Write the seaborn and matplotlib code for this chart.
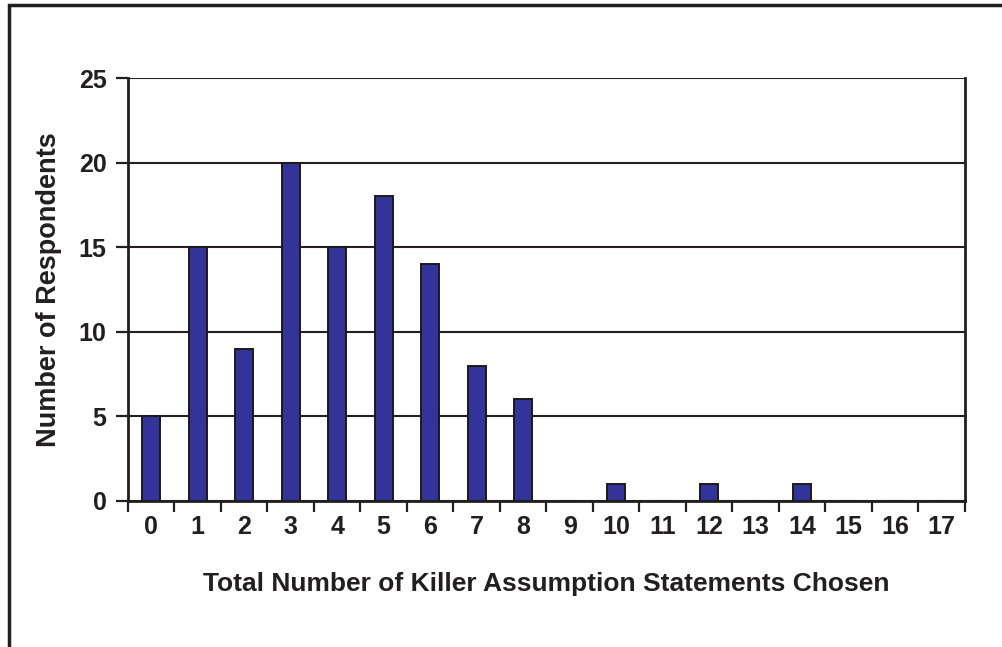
import matplotlib
matplotlib.use("Agg")
import matplotlib.pyplot as plt
from matplotlib.patches import Rectangle
from matplotlib.ticker import FixedLocator, NullFormatter
import seaborn as sns
import pandas as pd

# Distribution of respondents by number of statements chosen
statements_chosen = list(range(18))
respondents = [5, 15, 9, 20, 15, 18, 14, 8, 6, 0, 1, 0, 1, 0, 1, 0, 0, 0]
y_ticks = [0, 5, 10, 15, 20, 25]

df = pd.DataFrame({"chosen": statements_chosen, "count": respondents})

sns.set_theme(style="white")
plt.rcParams["font.family"] = ["Liberation Sans", "DejaVu Sans"]

INK = "#231f20"
FS = 18

fig = plt.figure(figsize=(10.03, 6.47), dpi=100)
ax = fig.add_axes([0.1276, 0.2257, 0.962 - 0.1276, 0.8794 - 0.2257])

sns.barplot(data=df, x="chosen", y="count", order=statements_chosen,
            color="#333399", saturation=1, width=0.38,
            edgecolor="#1a1a1a", linewidth=1.4, ax=ax, zorder=3)

ax.set_xlim(-0.5, len(statements_chosen) - 0.5)
ax.set_ylim(0, 25)
ax.set_yticks(y_ticks)
ax.set_yticklabels([str(v) for v in y_ticks], fontsize=FS, fontweight="bold", color=INK)
ax.set_xticks(range(len(statements_chosen)))
ax.set_xticklabels([str(v) for v in statements_chosen], fontsize=FS,
                   fontweight="bold", color=INK)

# tick marks sit between categories
ax.xaxis.set_minor_locator(FixedLocator([i - 0.5 for i in range(len(statements_chosen) + 1)]))
ax.xaxis.set_minor_formatter(NullFormatter())
ax.tick_params(axis="x", which="major", length=0, pad=10)
ax.tick_params(axis="x", which="minor", bottom=True, length=8, width=1.6,
               color=INK, direction="out")
ax.tick_params(axis="y", which="major", left=True, length=8.5, width=1.6,
               color=INK, direction="out", pad=7)

ax.grid(axis="y", color=INK, linewidth=1.5, zorder=0)
ax.grid(axis="x", visible=False)
for side in ("left", "bottom", "right"):
    ax.spines[side].set_visible(True)
    ax.spines[side].set_color(INK)
    ax.spines[side].set_linewidth(2)
ax.spines["top"].set_visible(False)

ax.set_xlabel("Total Number of Killer Assumption Statements Chosen",
              fontsize=19, fontweight="bold", color=INK, labelpad=24)
ax.set_ylabel("Number of Respondents", fontsize=19.5, fontweight="bold",
              color=INK, labelpad=12)

# outer chart frame
fig.patches.append(Rectangle((9 / 1003, -0.05), 1.1, 1 - 5 / 647 + 0.05,
                             transform=fig.transFigure, fill=False,
                             edgecolor=INK, linewidth=2.5))

fig.savefig("out.png", dpi=100)
